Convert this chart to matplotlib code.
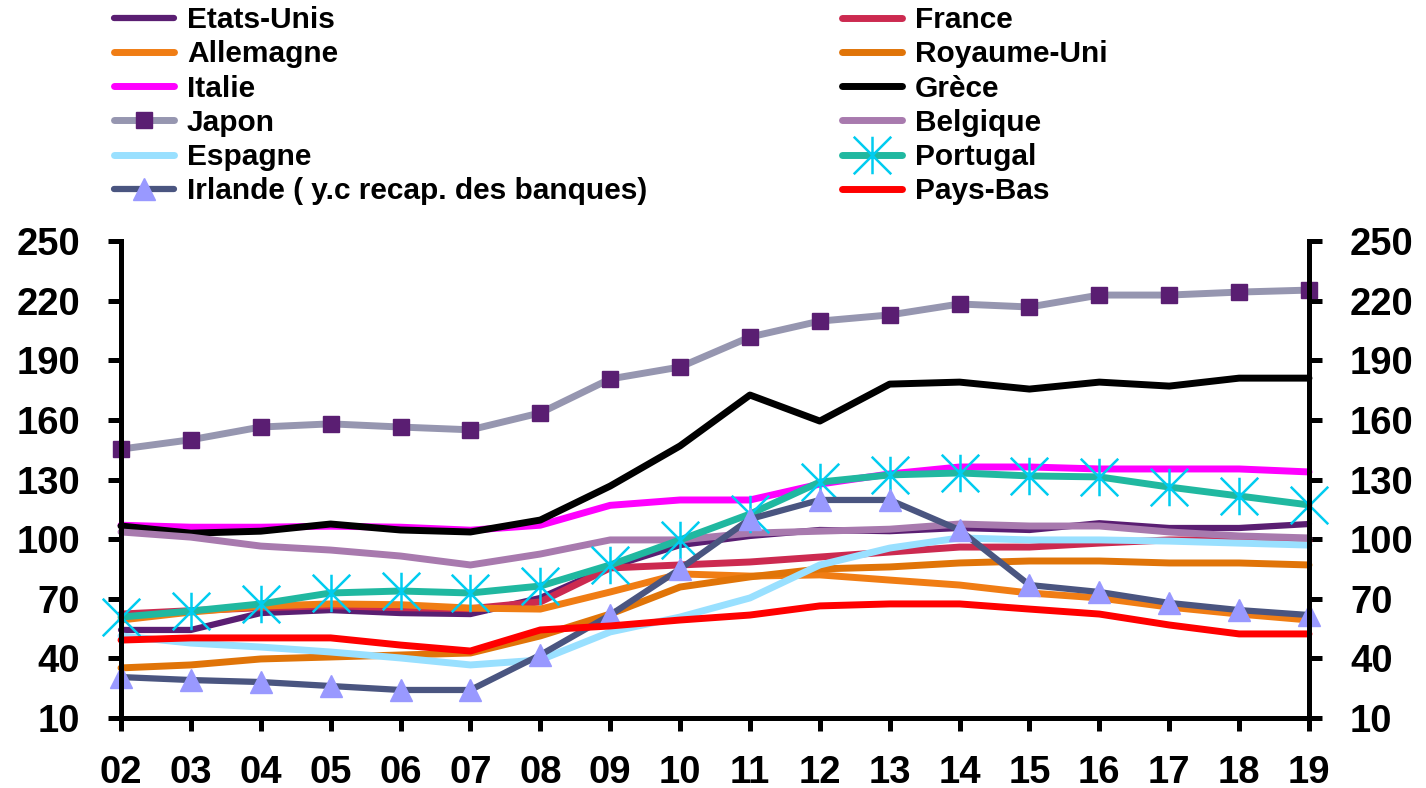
import matplotlib
matplotlib.use("Agg")
import matplotlib.pyplot as plt
from matplotlib.path import Path
import numpy as np

plt.rcParams['font.family'] = ['Liberation Sans', 'DejaVu Sans']
plt.rcParams['font.weight'] = 'bold'

years = ["02", "03", "04", "05", "06", "07", "08", "09", "10", "11",
         "12", "13", "14", "15", "16", "17", "18", "19"]

etats_unis = [54.3, 54.3, 62.8, 64.3, 62.8, 62.3, 70.4, 86.0, 97.0, 101.6,
              104.6, 104.0, 105.6, 104.6, 108.0, 105.6, 105.6, 107.6]
france = [62.3, 64.0, 65.5, 66.5, 65.5, 65.0, 68.4, 85.5, 87.0, 88.5,
          91.0, 93.5, 96.0, 96.0, 98.0, 99.6, 99.6, 99.0]
allemagne = [59.3, 63.3, 66.3, 67.4, 67.0, 65.3, 64.8, 73.4, 82.5, 81.4,
             82.0, 79.4, 76.9, 72.9, 70.4, 65.8, 62.3, 59.3]
royaume_uni = [35.2, 36.7, 39.7, 40.7, 41.7, 42.7, 51.3, 62.3, 75.9, 81.0,
               85.0, 86.0, 88.0, 89.0, 89.0, 88.0, 88.0, 87.0]
italie = [107.0, 106.0, 106.0, 106.5, 106.0, 104.5, 107.0, 117.0, 119.7, 119.7,
          127.7, 132.8, 136.3, 136.3, 135.3, 135.3, 135.3, 133.8]
grece = [106.6, 103.0, 104.0, 107.6, 104.6, 103.6, 109.6, 126.7, 146.9, 172.5,
         159.4, 178.0, 179.0, 175.5, 179.0, 177.0, 181.0, 181.0]
japon = [145.3, 150.0, 156.4, 158.0, 156.4, 155.0, 163.5, 180.6, 186.6, 201.7,
         209.7, 212.8, 218.3, 216.8, 222.8, 222.8, 224.3, 225.3]
belgique = [103.6, 101.0, 96.5, 94.5, 91.5, 87.0, 92.5, 99.6, 99.6, 103.0,
            104.0, 105.0, 107.6, 106.6, 106.6, 103.6, 101.6, 100.6]
espagne = [51.3, 47.7, 45.7, 43.2, 40.2, 36.7, 39.2, 53.3, 60.8, 70.4,
           87.0, 95.5, 100.6, 99.6, 99.6, 99.0, 98.0, 97.0]
portugal = [60.8, 63.8, 67.4, 72.9, 73.9, 72.9, 76.4, 87.0, 99.6, 112.6,
            128.7, 132.3, 133.3, 131.8, 131.3, 126.2, 121.7, 117.2]
irlande = [30.6, 29.1, 28.1, 26.1, 24.1, 24.1, 41.7, 61.8, 85.0, 110.1,
           119.7, 119.7, 104.6, 76.9, 73.4, 67.9, 64.3, 61.8]
pays_bas = [49.2, 50.3, 50.3, 50.3, 46.7, 43.7, 54.3, 56.3, 59.3, 61.8,
            66.4, 67.4, 67.4, 64.8, 62.3, 56.8, 52.3, 52.3]

yticks = [10, 40, 70, 100, 130, 160, 190, 220, 250]

fig = plt.figure(figsize=(14.26, 7.88), dpi=100)
ax = fig.add_axes([121/1426, 1-718/788, (1309-121)/1426, (718-241)/788])
x = np.arange(len(years))

star = Path([(0, -1), (0, 1), (-1, -1), (1, 1), (-1, 1), (1, -1)],
            [Path.MOVETO, Path.LINETO, Path.MOVETO, Path.LINETO, Path.MOVETO, Path.LINETO])

lw = 5
h = {}
h['Etats-Unis'], = ax.plot(x, etats_unis, color='#5a1e72', lw=4.5)
h['France'], = ax.plot(x, france, color='#cc2a50', lw=lw)
h['Allemagne'], = ax.plot(x, allemagne, color='#f07d14', lw=lw)
h['Royaume-Uni'], = ax.plot(x, royaume_uni, color='#e07408', lw=lw)
h['Italie'], = ax.plot(x, italie, color='#ff00ff', lw=lw)
h['Grèce'], = ax.plot(x, grece, color='#000000', lw=lw)
h['Japon'], = ax.plot(x, japon, color='#9696b0', lw=lw, marker='s', ms=11,
                      mfc='#5a1e72', mec='#5a1e72')
h['Belgique'], = ax.plot(x, belgique, color='#a87aae', lw=lw)
h['Espagne'], = ax.plot(x, espagne, color='#99e0ff', lw=lw)
h['Portugal'], = ax.plot(x, portugal, color='#20b8a0', lw=lw, marker=star, ms=27,
                         mec='#00ccf0', mew=1.8)
h['Irlande ( y.c recap. des banques)'], = ax.plot(x, irlande, color='#4a5580', lw=4.5,
                                                   marker='^', ms=16, mfc='#9999ff', mec='#9999ff')
h['Pays-Bas'], = ax.plot(x, pays_bas, color='#ff0000', lw=lw)
for ln in h.values():
    ln.set_clip_on(False)
    ln.set_solid_capstyle('round')

ax.set_xlim(0, len(years) - 1)
ax.set_ylim(10, 250)
ax.set_xticks(x)
ax.set_xticklabels(years)
ax.set_yticks(yticks)
ax.spines['top'].set_visible(False)
for s in ['left', 'right', 'bottom']:
    ax.spines[s].set_linewidth(3.6)
ax.tick_params(axis='both', direction='out', length=9.5, width=3.6, labelsize=27.5)
ax.tick_params(axis='x', pad=17)
ax.tick_params(axis='y', pad=20, left=True, right=True, labelleft=True, labelright=True)

left_names = ['Etats-Unis', 'Allemagne', 'Italie', 'Japon', 'Espagne',
              'Irlande ( y.c recap. des banques)']
right_names = ['France', 'Royaume-Uni', 'Grèce', 'Belgique', 'Portugal', 'Pays-Bas']
common = dict(loc='upper left', frameon=False, fontsize=21.5,
              labelspacing=0.21, borderaxespad=0, borderpad=0,
              handlelength=2.0, handletextpad=0.44)
fig.legend([h[n] for n in left_names], left_names, bbox_to_anchor=(114/1426, 1-6/788), **common)
fig.legend([h[n] for n in right_names], right_names, bbox_to_anchor=(842/1426, 1-6/788), **common)

fig.savefig('out.png', dpi=100)
